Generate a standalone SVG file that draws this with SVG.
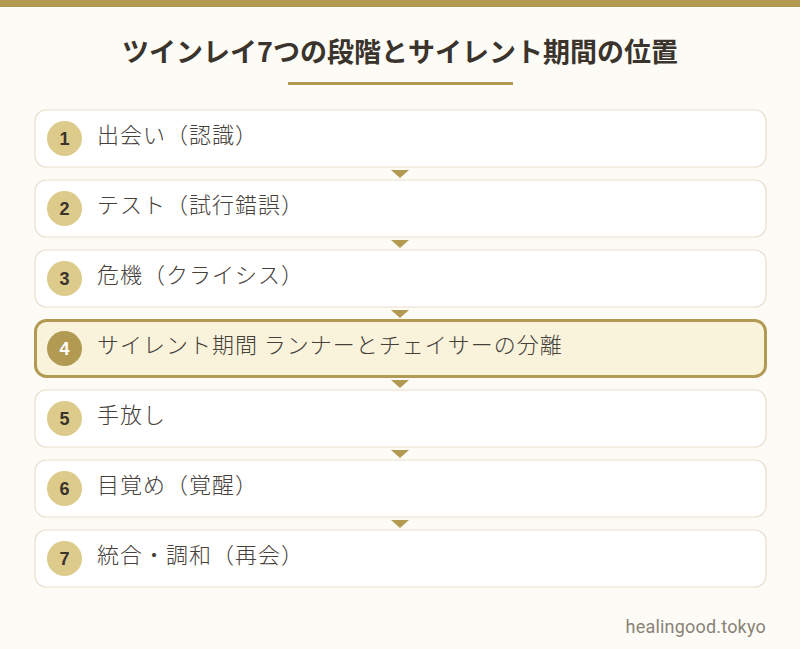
<svg xmlns="http://www.w3.org/2000/svg" width="800" height="649" viewBox="0 0 800 649">
<style>
.bg{fill:#fcfbf6}
.box{fill:#ffffff;stroke:#e8e0cc;stroke-width:1.2}
.hbox{fill:#faf3dc;stroke:#b39a52;stroke-width:3}
.num{fill:#dccb8a}
.hnum{fill:#b39a52}
.nt{font-family:"Liberation Sans","Noto Sans CJK JP",sans-serif;font-weight:bold;font-size:18px;fill:#3a342c;text-anchor:middle}
.hnt{fill:#ffffff}
.lbl{font-family:"Noto Sans CJK JP",sans-serif;font-weight:300;font-size:22px;letter-spacing:1px;fill:#45403a}
.arr{fill:#b39a52}
</style>
<rect class="bg" x="0" y="0" width="800" height="649"/>
<rect x="0" y="0" width="800" height="7" fill="#b39a52"/>
<text x="400" y="62" font-family="Noto Sans CJK JP, sans-serif" font-weight="bold" font-size="27" fill="#3a342c" text-anchor="middle">ツインレイ7つの段階とサイレント期間の位置</text>
<rect x="288" y="82" width="225" height="3" fill="#b39a52"/>
<g id="connectors">
<polygon class="arr" points="391,170 409,170 400,178"/>
<polygon class="arr" points="391,240 409,240 400,248"/>
<polygon class="arr" points="391,310 409,310 400,318"/>
<polygon class="arr" points="391,380 409,380 400,388"/>
<polygon class="arr" points="391,450 409,450 400,458"/>
<polygon class="arr" points="391,520 409,520 400,528"/>
</g>
<g id="node1">
<rect class="box" x="35" y="110" width="731" height="57" rx="11"/>
<circle class="num" cx="64.5" cy="138.5" r="17.5"/>
<text class="nt" x="64.5" y="145">1</text>
<text class="lbl" x="97" y="143">出会い（認識）</text>
</g>
<g id="node2">
<rect class="box" x="35" y="180" width="731" height="57" rx="11"/>
<circle class="num" cx="64.5" cy="208.5" r="17.5"/>
<text class="nt" x="64.5" y="215">2</text>
<text class="lbl" x="97" y="213">テスト（試行錯誤）</text>
</g>
<g id="node3">
<rect class="box" x="35" y="250" width="731" height="57" rx="11"/>
<circle class="num" cx="64.5" cy="278.5" r="17.5"/>
<text class="nt" x="64.5" y="285">3</text>
<text class="lbl" x="97" y="283">危機（クライシス）</text>
</g>
<g id="node4">
<rect class="hbox" x="35.5" y="320.5" width="730" height="56" rx="11"/>
<circle class="hnum" cx="64.5" cy="348.5" r="17.5"/>
<text class="nt hnt" x="64.5" y="355">4</text>
<text class="lbl" x="97" y="353">サイレント期間 ランナーとチェイサーの分離</text>
</g>
<g id="node5">
<rect class="box" x="35" y="390" width="731" height="57" rx="11"/>
<circle class="num" cx="64.5" cy="418.5" r="17.5"/>
<text class="nt" x="64.5" y="425">5</text>
<text class="lbl" x="97" y="423">手放し</text>
</g>
<g id="node6">
<rect class="box" x="35" y="460" width="731" height="57" rx="11"/>
<circle class="num" cx="64.5" cy="488.5" r="17.5"/>
<text class="nt" x="64.5" y="495">6</text>
<text class="lbl" x="97" y="493">目覚め（覚醒）</text>
</g>
<g id="node7">
<rect class="box" x="35" y="530" width="731" height="57" rx="11"/>
<circle class="num" cx="64.5" cy="558.5" r="17.5"/>
<text class="nt" x="64.5" y="565">7</text>
<text class="lbl" x="97" y="563">統合・調和（再会）</text>
</g>
<text x="766" y="633" font-family="Roboto, sans-serif" font-size="18" letter-spacing="0.2" fill="#8a8276" text-anchor="end">healingood.tokyo</text>
</svg>
